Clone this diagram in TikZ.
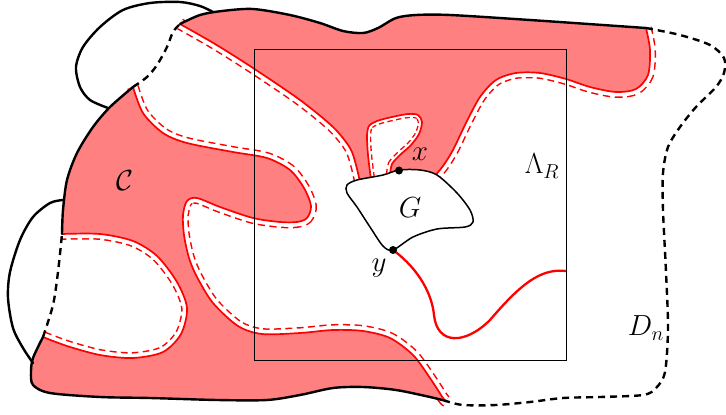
\RequirePackage{fix-cm}
\documentclass[tikz,border=0pt]{standalone}
\usepackage{graphicx}
\newcommand\biglbl[1]{\scalebox{1.4}{$#1$}}
\begin{document}
\begin{tikzpicture}[x=1pt,y=-1pt,
  thickblack/.style={draw=black,line width=2.4pt,line cap=round,line join=round},
  blackdash/.style={draw=black,line width=2.4pt,dash pattern=on 7pt off 5pt},
  redline/.style={draw=red,line width=1.7pt,line join=round},
  offouter/.style={draw=red,line width=11.9pt,dash pattern=on 7pt off 4.5pt},
  offinner/.style={draw=white,line width=8.9pt},
  offouterS/.style={draw=red,line width=8.4pt,dash pattern=on 5.5pt off 3.5pt},
  offinnerS/.style={draw=white,line width=5.6pt},
  pinkfill/.style={fill=red!50},
  lbl/.style={font=\fontsize{20.74}{24}\selectfont,inner sep=0pt}]
\useasboundingbox (0,0) rectangle (726,415);

\def\pTopBlack{-- plot[smooth] coordinates {(180,24) (200,15) (222,11) (253,9) (290,15) (320,23) (343,31) (363,33) (378,28) (396,18) (416,15) (450,15) (530,20) (646,28)}}
\def\pRightRed{-- plot[smooth] coordinates {(646,28) (650,50) (648,75) (636,89) (616,92) (590,87) (566,79) (540,73) (516,73) (496,80) (480,97) (466,123) (453,150) (443,166) (433,178)}}
\def\pLoop{-- plot[smooth] coordinates {(390,175) (392,164) (400,155) (411,145) (419,134) (422,122) (418,115) (408,114) (392,117) (377,121) (369,126) (367,136) (368,155) (371,180)}}
\def\pUpper{-- plot[smooth] coordinates {(360,182) (356,165) (350,148) (333,127) (300,100) (253,68) (215,44) (180,24)}}
\def\pTongue{-- plot[smooth] coordinates {(133,87) (143,113) (163,133) (187,143) (233,152) (267,158) (290,170) (304,188) (311,206) (307,218) (297,222) (280,222) (253,218) (220,207) (197,198) (187,201) (183,215) (184,235) (189,258) (197,277) (213,303) (238,326) (262,334) (300,333) (333,330) (363,331) (390,338) (413,355) (430,378) (443,398) (446,401)}}
\def\pBottom{-- plot[smooth] coordinates {(446,401) (430,397) (396,390) (363,387) (333,388) (300,395) (267,400) (217,400) (150,398) (100,397) (50,393) (33,385) (31,372) (33,358) (43,337)}}
\def\pHole{-- plot[smooth] coordinates {(43,337) (67,346) (100,355) (133,358) (163,352) (181,334) (187,308) (177,282) (157,256) (133,241) (100,234) (62,234)}}
\def\pLeft{-- plot[smooth] coordinates {(62,234) (63,210) (67,180) (77,153) (93,127) (110,107) (133,87)}}
\def\pRightDash{-- plot[smooth] coordinates {(646,28) (680,35) (710,45) (724,58) (724,73) (716,87) (696,107) (680,127) (668,147) (663,173) (663,210) (666,272) (668,328) (665,372) (656,388) (643,395) (600,397) (563,398) (530,402) (496,405) (463,405) (446,401)}}
\def\pLeftDash{-- plot[smooth] coordinates {(43,337) (53,305) (58,272) (62,234)}}
\def\pTLDash{-- plot[smooth] coordinates {(133,87) (147,77) (157,65) (167,47) (173,32) (180,24)}}

% dashed offsets on the white side
\draw[offouter] (646,28) \pRightRed;  \draw[offinner] (646,28) \pRightRed;
\draw[offouter] (360,182) \pUpper;    \draw[offinner] (360,182) \pUpper;
\draw[offouter] (133,87) \pTongue;    \draw[offinner] (133,87) \pTongue;
\draw[offouter] (43,337) \pHole;      \draw[offinner] (43,337) \pHole;
\draw[offouterS] (390,175) \pLoop;    \draw[offinnerS] (390,175) \pLoop;

% cluster C
\fill[pinkfill] (180,24) \pTopBlack \pRightRed -- (415,176) -- (399,176) \pLoop \pUpper -- cycle;
\fill[pinkfill] (133,87) \pTongue \pBottom \pHole \pLeft -- cycle;

% red boundaries
\draw[redline] (646,28) \pRightRed;
\draw[redline] (390,175) \pLoop;
\draw[redline] (360,182) \pUpper;
\draw[redline] (133,87) \pTongue;
\draw[redline] (43,337) \pHole;

% outer boundary
\draw[thickblack] (180,24) \pTopBlack;
\draw[thickblack] (446,401) \pBottom;
\draw[thickblack] (62,234) \pLeft;
\draw[blackdash] (646,28) \pRightDash;
\draw[blackdash] (43,337) \pLeftDash;
\draw[blackdash] (133,87) \pTLDash;

% bumps
\draw[thickblack] plot[smooth] coordinates {(108,108) (90,100) (80,87) (76,67) (83,47) (100,27) (123,10) (150,3) (180,2) (200,6) (213,12)};
\draw[thickblack] plot[smooth] coordinates {(63,200) (50,203) (33,217) (20,240) (10,272) (8,298) (13,328) (23,348) (33,363)};

% box Lambda_R
\draw[line width=0.8pt] (254,49) rectangle (566,360);

% G
\draw[line width=1.5pt,fill=white] plot[smooth cycle] coordinates {(347,185) (357,180) (383,175) (399,170) (420,170) (437,175) (457,193) (470,210) (473,222) (465,227) (437,229) (413,237) (393,250) (383,246) (370,227) (357,207) (347,193)};

\coordinate (xpt) at (399,170.5);
\coordinate (ypt) at (393,250);
\coordinate (yend) at (566,271);
\draw[draw=red,line width=2.3pt] (ypt) .. controls (420,270) and (432,295) .. (434,315)
  .. controls (437,345) and (465,345) .. (490,320)
  .. controls (520,285) and (540,268) .. (yend);
\fill (xpt) circle[radius=4];
\fill (ypt) circle[radius=4];

\node[lbl] (lamR) at (542,166) {\biglbl{\Lambda_R}};
\node[lbl] (Dn) at (646,328) {\biglbl{D_n}};
\node[lbl] (Cl) at (125,181) {\biglbl{\mathcal{C}}};
\node[lbl] (Gl) at (410,208) {\biglbl{G}};
\node[lbl] (xl) at (420,154) {\biglbl{x}};
\node[lbl] (yl) at (379,268) {\biglbl{y}};
\end{tikzpicture}
\end{document}
